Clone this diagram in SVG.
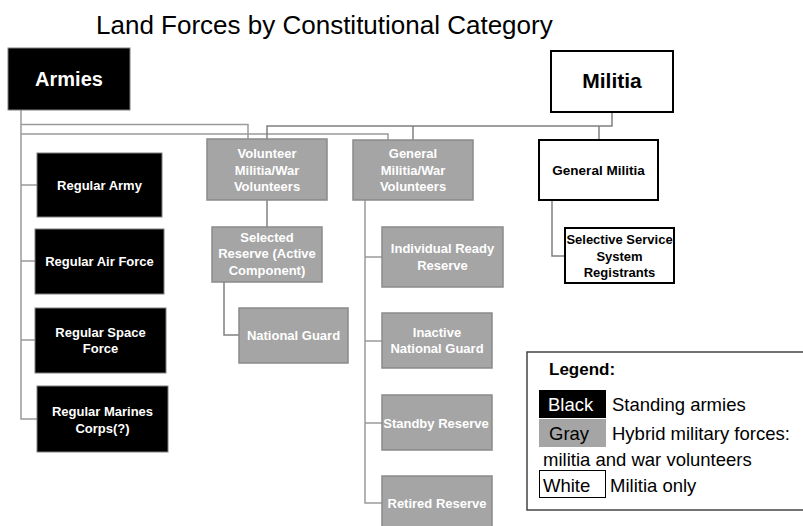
<svg xmlns="http://www.w3.org/2000/svg" width="803" height="526" viewBox="0 0 803 526">
<style>
text{font-family:"Liberation Sans",Arial,sans-serif;}
.t{font-size:26px;fill:#000;}
.blk{fill:#000;stroke:#7f7f7f;stroke-width:1;}
.gry{fill:#a5a5a5;stroke:#8a8a8a;stroke-width:1.5;}
.wht{fill:#fff;stroke:#000;stroke-width:2;}
.lw{font-size:13px;font-weight:bold;fill:#fff;text-anchor:middle;}
.lb{font-size:13px;font-weight:bold;fill:#000;text-anchor:middle;}
.c{fill:none;stroke:#9a9a9a;stroke-width:1.5;}
.cd{fill:none;stroke:#808080;stroke-width:1.5;}
.lg{font-size:18.5px;fill:#000;}
</style>
<rect width="803" height="526" fill="#fff"/>
<text class="t" x="96" y="34">Land Forces by Constitutional Category</text>

<g id="connectors">
<path class="c" d="M21,110 V419 H37 M21,185 H37 M21,261 H35 M21,340 H35"/>
<path class="c" d="M21,124.5 H248 V139"/>
<path class="c" d="M21,134 H388 V140"/>
<path class="cd" d="M612,112 V126 H267 V139"/>
<path class="cd" d="M413,126 V140"/>
<path class="cd" d="M599,126 V140"/>
<path class="cd" d="M267,200 V227"/>
<path class="cd" d="M224,282 V335 H239"/>
<path class="c" d="M365,200 V503 H382 M365,257 H382 M365,341 H382 M365,423 H382"/>
<path class="cd" d="M552,200 V256 H565"/>
</g>

<g id="armies">
<rect class="blk" x="8" y="48" width="122" height="62"/>
<text x="69" y="86" style="font-size:20px;font-weight:bold;fill:#fff;text-anchor:middle">Armies</text>
</g>
<g id="militia">
<rect class="wht" x="551" y="51" width="122" height="61"/>
<text x="612" y="88" style="font-size:21px;font-weight:bold;fill:#000;text-anchor:middle">Militia</text>
</g>

<g id="regular-army">
<rect class="blk" x="37" y="153" width="125" height="64"/>
<text class="lw" x="99.5" y="189.5">Regular Army</text>
</g>
<g id="regular-air-force">
<rect class="blk" x="35" y="229" width="129" height="65"/>
<text class="lw" x="99.5" y="265.5">Regular Air Force</text>
</g>
<g id="regular-space-force">
<rect class="blk" x="35" y="308" width="131" height="65"/>
<text class="lw" x="100.5" y="336.5">Regular Space</text>
<text class="lw" x="100.5" y="352.5">Force</text>
</g>
<g id="regular-marines">
<rect class="blk" x="37" y="386" width="131" height="66"/>
<text class="lw" x="102.5" y="415.5">Regular Marines</text>
<text class="lw" x="102.5" y="432.5">Corps(?)</text>
</g>

<g id="volunteer-militia">
<rect class="gry" x="207" y="139" width="120" height="61"/>
<text class="lw" x="267" y="158">Volunteer</text>
<text class="lw" x="267" y="174.5">Militia/War</text>
<text class="lw" x="267" y="191">Volunteers</text>
</g>
<g id="selected-reserve">
<rect class="gry" x="212" y="227" width="110" height="55"/>
<text class="lw" x="267" y="241.5">Selected</text>
<text class="lw" x="267" y="258">Reserve (Active</text>
<text class="lw" x="267" y="274.5">Component)</text>
</g>
<g id="national-guard">
<rect class="gry" x="239" y="308" width="109" height="55"/>
<text class="lw" x="293.5" y="339.5">National Guard</text>
</g>

<g id="general-militia-war">
<rect class="gry" x="353" y="140" width="120" height="60"/>
<text class="lw" x="413" y="158">General</text>
<text class="lw" x="413" y="174.5">Militia/War</text>
<text class="lw" x="413" y="191">Volunteers</text>
</g>
<g id="individual-ready-reserve">
<rect class="gry" x="382" y="227" width="121" height="60"/>
<text class="lw" x="442.5" y="252.5">Individual Ready</text>
<text class="lw" x="442.5" y="269.5">Reserve</text>
</g>
<g id="inactive-national-guard">
<rect class="gry" x="382" y="313" width="110" height="55"/>
<text class="lw" x="437" y="336.5">Inactive</text>
<text class="lw" x="437" y="352.5">National Guard</text>
</g>
<g id="standby-reserve">
<rect class="gry" x="382" y="395" width="110" height="55"/>
<text class="lw" x="436" y="427.5">Standby Reserve</text>
</g>
<g id="retired-reserve">
<rect class="gry" x="382" y="476" width="110" height="58"/>
<text class="lw" x="437" y="507.5">Retired Reserve</text>
</g>

<g id="general-militia">
<rect class="wht" x="539" y="140" width="119" height="60"/>
<text class="lb" x="598.5" y="174.5" style="font-size:13.5px">General Militia</text>
</g>
<g id="selective-service">
<rect class="wht" x="565" y="228" width="109" height="55"/>
<text class="lb" x="619.5" y="243.5">Selective Service</text>
<text class="lb" x="619.5" y="260.5">System</text>
<text class="lb" x="619.5" y="276.5">Registrants</text>
</g>

<g id="legend">
<rect x="527" y="352" width="290" height="158" fill="#fff" stroke="#444" stroke-width="1.5"/>
<text x="549" y="375" style="font-size:17px;font-weight:bold;fill:#000">Legend:</text>
<rect x="539" y="390" width="67" height="28" fill="#000"/>
<text class="lg" x="548" y="411" style="fill:#fff">Black</text>
<text class="lg" x="612" y="411">Standing armies</text>
<rect x="539" y="419" width="67" height="28" fill="#a5a5a5"/>
<text class="lg" x="549" y="440">Gray</text>
<text class="lg" x="612" y="440">Hybrid military forces:</text>
<text class="lg" x="543" y="466">militia and war volunteers</text>
<rect x="539.5" y="470.5" width="66" height="27" fill="#fff" stroke="#000" stroke-width="1"/>
<text class="lg" x="543" y="492">White</text>
<text class="lg" x="610" y="492">Militia only</text>
</g>
</svg>
